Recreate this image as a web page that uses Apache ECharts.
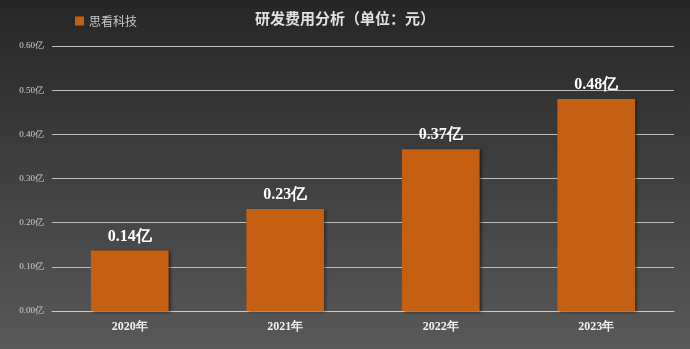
<!DOCTYPE html>
<html><head><meta charset="utf-8">
<script src="https://cdn.jsdelivr.net/npm/echarts@6/dist/echarts.min.js"></script>
<style>html,body{margin:0;padding:0;background:#2a2a2a}#c{width:690px;height:349px}</style>
</head><body><div id="c"></div>
<script>
const categories = ['2020年', '2021年', '2022年', '2023年'];
const seriesName = '思看科技';
const values = [0.137, 0.231, 0.366, 0.48];
const yTicks = [0, 0.1, 0.2, 0.3, 0.4, 0.5, 0.6];
const titleText = '研发费用分析（单位：元）';

const chart = echarts.init(document.getElementById('c'));
chart.setOption({
  backgroundColor: new echarts.graphic.LinearGradient(0, 0, 0, 1, [
    {offset: 0, color: '#262626'}, {offset: 1, color: '#595959'}
  ]),
  title: {
    text: titleText, left: 'center', top: 6,
    textStyle: {color: '#e0e0e0', fontSize: 15, fontWeight: 'bold', fontFamily: 'Noto Sans CJK SC'}
  },
  legend: {
    data: [seriesName], left: 70, top: 10, itemWidth: 9, itemHeight: 9, itemGap: 5,
    icon: 'rect',
    textStyle: {color: '#c8c8c8', fontSize: 12, fontFamily: 'Noto Sans CJK SC'}
  },
  grid: {left: 52, right: 16, top: 46, bottom: 38},
  xAxis: {
    type: 'category', data: categories,
    axisLine: {lineStyle: {color: '#c8c8c8', width: 1}},
    axisTick: {show: false},
    axisLabel: {color: '#f0f0f0', fontSize: 12, fontWeight: 'bold', fontFamily: 'Liberation Serif', margin: 10}
  },
  yAxis: {
    type: 'value', min: 0, max: yTicks[yTicks.length - 1], interval: 0.1,
    axisLine: {show: false}, axisTick: {show: false},
    splitLine: {lineStyle: {color: '#bdbdbd', width: 1}},
    axisLabel: {color: '#d0d0d0', fontSize: 9, margin: 8, fontFamily: 'Liberation Serif',
      formatter: v => v.toFixed(2) + '亿'}
  },
  series: [{
    name: seriesName, type: 'bar', data: values, barWidth: '50%',
    itemStyle: {color: '#c55f11', shadowColor: 'rgba(0,0,0,0.55)', shadowBlur: 3, shadowOffsetX: 2, shadowOffsetY: 1},
    label: {
      show: true, position: 'top', distance: 6,
      color: '#ffffff', fontSize: 16, fontWeight: 'bold', fontFamily: 'Liberation Serif',
      formatter: p => p.value.toFixed(2) + '亿'
    }
  }]
});
</script></body></html>
